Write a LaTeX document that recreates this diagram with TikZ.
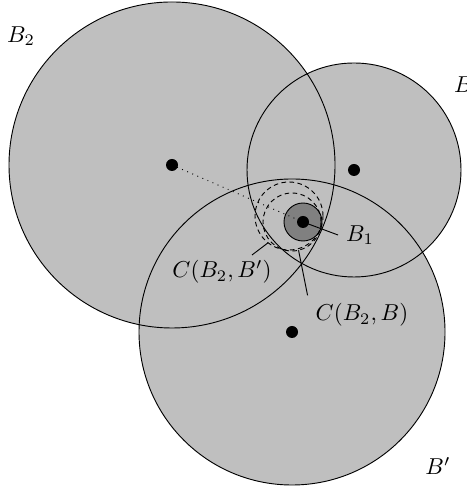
\documentclass[tikz,border=0pt]{standalone}
\usepackage{amsmath}
\usetikzlibrary{calc}

\begin{document}
\begin{tikzpicture}[x=0.01528cm, y=0.01528cm,
    ball/.style={fill=black!25},
    rim/.style={draw=black},
    inner/.style={fill=black!50, draw=black},
    dcirc/.style={draw, dash pattern=on 2pt off 1.5pt},
    ctr/.style={fill=black},
    lead/.style={thin}
]
\useasboundingbox (0,0) rectangle (466,491);

\coordinate (b2) at (172,326);
\coordinate (b)  at (354,321);
\coordinate (bp) at (292,159);
\coordinate (b1) at (303,269);
\coordinate (cbbp) at (289,275);
\coordinate (cbb)  at (292,269);

% balls
\fill[ball] (b2) circle (163);
\fill[ball] (b)  circle (107);
\fill[ball] (bp) circle (153);
\draw[rim] (b2) circle (163);
\draw[rim] (b)  circle (107);
\draw[rim] (bp) circle (153);

\draw[inner] (b1) circle (19);
\draw[dcirc] (cbbp) circle (34);
\draw[dcirc] (cbb)  circle (29);

\draw[dotted] (b2) -- (b1);

\fill[ctr] (b2) circle (6);
\fill[ctr] (b)  circle (6);
\fill[ctr] (bp) circle (6);
\fill[ctr] (b1) circle (6);

\node (lb2) at (21,455) {$B_2$};
\node[anchor=west] (lb) at (446,406) {$B$};
\node (lbp) at (438,25) {$B'$};
\node[anchor=west] (lb1) at (338,256) {$B_1$};
\node (lcbbp) at (222,219) {$C(B_2,B')$};
\node (lcbb)  at (362,176) {$C(B_2,B)$};
\coordinate (tcbbp) at (252,236);

\draw[lead] (b1) -- (lb1.west);
\draw[lead] (tcbbp) -- ($(cbbp)+(-128:34)$);
\draw[lead] (lcbb.north west) -- ($(cbb)+(-77:29)$);
\end{tikzpicture}
\end{document}
